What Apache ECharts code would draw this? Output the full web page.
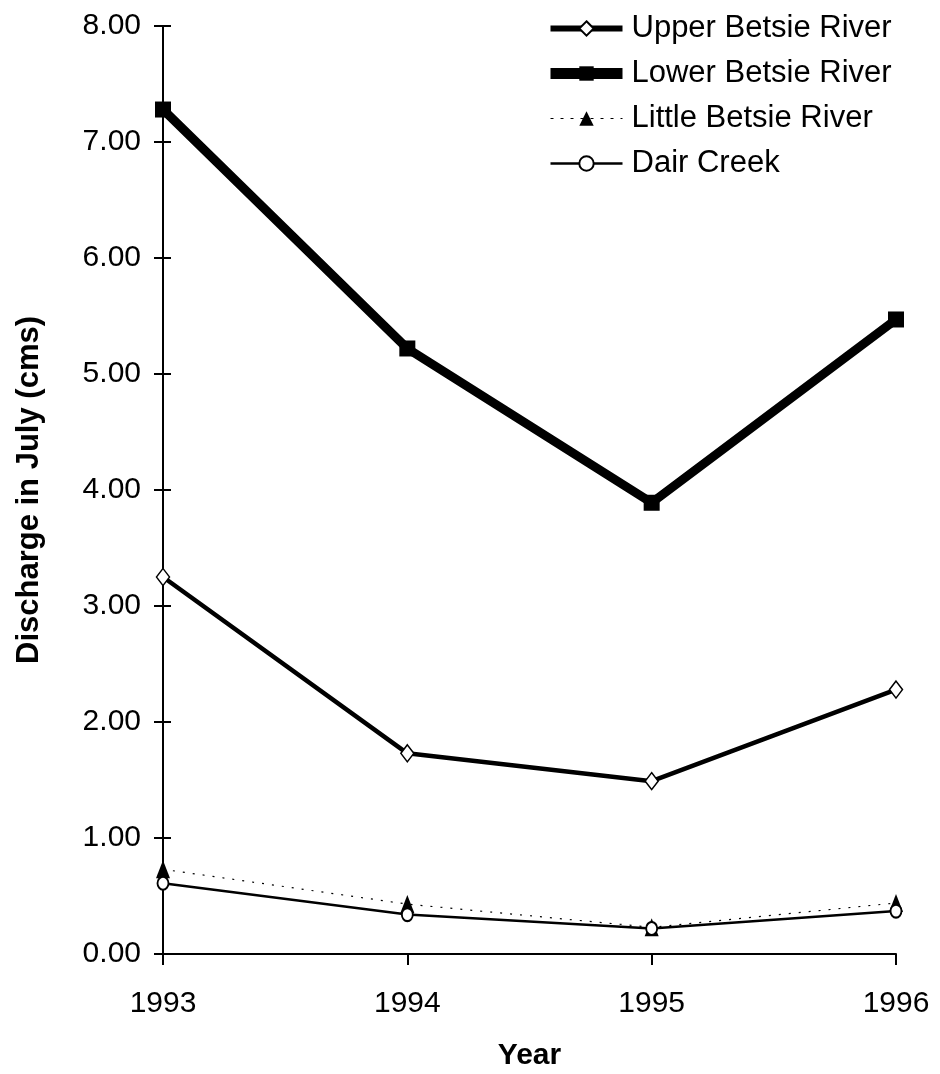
<!DOCTYPE html>
<html><head><meta charset="utf-8">
<script src="https://cdn.jsdelivr.net/npm/echarts@6/dist/echarts.min.js"></script>
<style>html,body{margin:0;padding:0;background:#fff}#c{width:940px;height:1074px}</style>
</head><body><div id="c"></div>
<script>
const years = ['1993','1994','1995','1996'];
const upperBetsie = [3.25, 1.73, 1.49, 2.28];
const lowerBetsie = [7.28, 5.22, 3.89, 5.47];
const littleBetsie = [0.73, 0.43, 0.23, 0.44];
const dairCreek = [0.61, 0.34, 0.22, 0.37];
const yTicks = {min: 0, max: 8, interval: 1};

const font = 'Liberation Sans, Arial, sans-serif';
const chart = echarts.init(document.getElementById('c'), null, {renderer: 'canvas'});
chart.setOption({
  animation: false,
  backgroundColor: '#fff',
  grid: {left: 163, right: 44, top: 26, bottom: 120, containLabel: false, outerBoundsMode: 'none'},
  legend: {
    orient: 'vertical', left: 540, top: 8,
    itemWidth: 72, itemHeight: 18, itemGap: 14,
    textStyle: {fontFamily: font, fontSize: 31, color: '#000', padding: [0, 0, 0, 4]},
    data: [
      {name: 'Upper Betsie River', lineStyle: {width: 6}},
      {name: 'Lower Betsie River', lineStyle: {width: 11}},
      {name: 'Little Betsie River', lineStyle: {width: 1, type: [3, 7]}},
      {name: 'Dair Creek', lineStyle: {width: 2.5}}
    ]
  },
  xAxis: {
    type: 'category', data: years, boundaryGap: false,
    name: 'Year', nameLocation: 'middle', nameGap: 87,
    nameTextStyle: {fontFamily: font, fontSize: 30, fontWeight: 'bold', color: '#000'},
    axisLine: {lineStyle: {color: '#000', width: 2}},
    axisTick: {show: true, length: 11, lineStyle: {color: '#000', width: 2}},
    axisLabel: {fontFamily: font, fontSize: 30, color: '#000', margin: 35},
    splitLine: {show: false}
  },
  yAxis: [{
    type: 'value', min: yTicks.min, max: yTicks.max, interval: yTicks.interval,
    name: 'Discharge in July (cms)', nameLocation: 'middle', nameGap: 118,
    nameTextStyle: {fontFamily: font, fontSize: 31, fontWeight: 'bold', color: '#000'},
    axisLine: {show: true, lineStyle: {color: '#000', width: 2}},
    axisTick: {show: true, length: 9, lineStyle: {color: '#000', width: 2}},
    axisLabel: {fontFamily: font, fontSize: 30, color: '#000', margin: 22,
      formatter: v => v.toFixed(2)},
    splitLine: {show: false}
  }, {
    type: 'value', min: yTicks.min, max: yTicks.max, interval: yTicks.interval,
    position: 'left',
    axisLine: {show: true, lineStyle: {color: '#000', width: 2}},
    axisTick: {show: true, inside: true, length: 8, lineStyle: {color: '#000', width: 2}},
    axisLabel: {show: false},
    splitLine: {show: false}
  }],
  series: [
    {name: 'Upper Betsie River', type: 'line', data: upperBetsie,
     symbol: 'diamond', symbolSize: [13, 17],
     lineStyle: {color: '#000', width: 4.5},
     itemStyle: {color: '#fff', borderColor: '#000', borderWidth: 1.5}, z: 3},
    {name: 'Lower Betsie River', type: 'line', data: lowerBetsie,
     symbol: 'rect', symbolSize: 16,
     lineStyle: {color: '#000', width: 9},
     itemStyle: {color: '#000'}, z: 2},
    {name: 'Little Betsie River', type: 'line', data: littleBetsie,
     symbol: 'triangle', symbolSize: [14, 18],
     lineStyle: {color: '#000', width: 1.2, type: [2, 8]},
     itemStyle: {color: '#000'}, z: 4},
    {name: 'Dair Creek', type: 'line', data: dairCreek,
     symbol: 'circle', symbolSize: [11, 13],
     lineStyle: {color: '#000', width: 2.5},
     itemStyle: {color: '#fff', borderColor: '#000', borderWidth: 2}, z: 5}
  ]
});
</script></body></html>
